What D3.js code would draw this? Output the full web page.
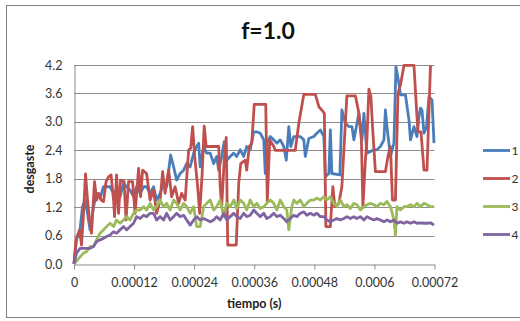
<!DOCTYPE html>
<html lang="es">
<head>
<meta charset="UTF-8">
<title>f=1.0</title>
<style>
* { margin: 0; padding: 0; }
body { background: #fff; width: 520px; height: 321px; overflow: hidden; font-family: Lato, "Open Sans", sans-serif; }
svg { display: block; }
.grid line { stroke: #8c8c8c; stroke-width: 1; }
.axis path, .axis line { stroke: #8c8c8c; }
.axis text { font-size: 12.5px; fill: #333; font-family: Lato, sans-serif; }
.series { fill: none; stroke-width: 2.8; stroke-linejoin: round; }
</style>
</head>
<body>
<div id="chart"></div>
<script src="https://cdn.jsdelivr.net/npm/d3@7/dist/d3.min.js"></script>
<script>
// time in microseconds, desgaste value
var serie1 = [[0,0.01],[5,0.51],[12,0.72],[17,1.21],[22,1.35],[27,1.07],[32,0.72],[39,1.21],[45,1.49],[52,1.39],[59,1.63],[65,1.63],[72,1.63],[79,1.49],[85,1.56],[92,1.42],[99,1.70],[105,1.63],[112,1.56],[119,1.42],[125,1.63],[132,1.49],[139,1.63],[145,1.63],[152,1.49],[159,1.63],[165,1.35],[172,1.49],[179,1.70],[185,1.63],[193,2.30],[199,2.05],[205,1.77],[212,1.91],[219,1.98],[225,2.12],[232,2.05],[239,2.34],[245,2.48],[249,2.55],[252,2.05],[259,2.48],[265,2.34],[272,2.34],[279,2.12],[285,2.27],[289,1.98],[295,2.27],[300,2.58],[305,2.19],[312,2.27],[319,2.34],[325,2.27],[332,2.41],[339,2.27],[345,2.48],[352,2.41],[359,2.79],[365,2.79],[372,2.76],[379,2.62],[382,1.91],[385,2.55],[392,2.69],[399,2.62],[405,2.55],[412,2.62],[419,2.48],[424,2.19],[429,2.90],[433,2.48],[439,2.69],[452,2.69],[459,2.62],[462,2.27],[469,2.65],[479,2.69],[485,2.76],[492,2.83],[499,2.69],[502,1.84],[509,1.91],[512,2.83],[515,1.91],[531,1.88],[535,3.25],[542,2.97],[549,2.90],[555,2.90],[559,2.62],[564,2.90],[569,3.18],[572,2.90],[575,2.62],[579,3.18],[585,2.34],[599,2.41],[605,2.41],[612,2.48],[619,2.62],[622,3.25],[625,2.90],[632,2.27],[639,2.55],[643,4.16],[649,3.81],[652,3.57],[662,3.57],[669,3.04],[672,2.62],[679,2.90],[685,2.69],[689,3.11],[692,3.29],[695,3.25],[699,2.76],[704,2.90],[709,3.53],[715,3.46],[719,2.55]];

var serie2 = [[0,0],[4,0.51],[11,0.72],[15,0.40],[19,1.07],[23,1.90],[27,1.35],[31,0.93],[35,0.65],[41,1.74],[45,1.35],[49,1.49],[54,1.35],[59,1.32],[64,1.74],[69,1.84],[74,1.88],[79,1.35],[81,1.00],[85,1.88],[89,1.07],[93,1.77],[100,1.74],[104,0.93],[109,1.74],[117,1.74],[122,1.07],[129,2.02],[133,1.42],[137,1.98],[145,1.91],[152,1.35],[159,1.56],[165,1.07],[172,1.35],[177,1.95],[182,1.49],[189,1.98],[195,1.42],[202,1.63],[209,1.28],[215,1.49],[222,1.35],[229,2.41],[233,2.44],[237,2.90],[241,2.27],[247,1.63],[251,1.07],[256,1.91],[260,2.91],[264,2.48],[289,2.48],[292,1.63],[295,1.21],[300,2.19],[304,2.67],[307,0.40],[324,0.40],[329,1.70],[333,2.12],[342,2.19],[345,1.98],[350,2.48],[355,2.55],[360,3.37],[383,3.37],[386,1.32],[391,2.62],[399,2.48],[402,2.40],[442,2.40],[449,2.97],[459,3.58],[482,3.58],[489,3.32],[495,3.25],[500,3.18],[503,0.79],[512,0.79],[517,1.63],[521,1.21],[529,1.28],[535,1.63],[545,3.55],[562,3.55],[569,3.18],[574,2.62],[577,1.21],[582,2.19],[585,2.62],[589,3.69],[593,3.53],[597,2.76],[602,1.95],[622,1.95],[627,2.27],[632,2.48],[636,1.35],[642,1.35],[647,3.60],[652,3.78],[659,4.19],[679,4.19],[683,3.46],[687,2.79],[693,2.79],[699,1.98],[705,1.98],[712,4.19]];

var serie3 = [[0,0],[12,0.15],[19,0.23],[25,0.26],[32,0.37],[39,0.37],[45,0.51],[52,0.65],[59,0.72],[65,0.79],[72,0.86],[79,0.79],[85,0.93],[92,0.86],[99,0.93],[105,1.00],[112,0.93],[119,1.07],[125,1.14],[132,1.14],[139,1.21],[145,1.14],[152,1.28],[159,1.14],[165,1.21],[172,1.35],[179,1.21],[185,1.28],[192,1.14],[199,1.35],[205,1.28],[212,1.14],[219,1.28],[225,1.21],[232,1.07],[239,1.21],[245,0.79],[252,0.79],[259,1.21],[265,1.28],[272,1.35],[279,1.14],[285,1.21],[292,1.35],[299,1.00],[305,1.28],[312,1.21],[319,1.35],[325,1.17],[332,1.35],[339,1.28],[345,1.14],[352,1.35],[359,1.21],[365,1.28],[372,1.17],[379,1.21],[385,1.28],[392,1.35],[399,1.28],[405,1.14],[412,1.35],[419,1.21],[425,1.14],[429,0.72],[435,1.21],[439,1.35],[445,1.28],[452,1.35],[459,1.21],[465,1.28],[472,1.35],[479,1.35],[485,1.39],[492,1.35],[499,1.42],[505,1.35],[512,1.42],[519,1.28],[525,1.21],[532,1.35],[539,1.21],[545,1.25],[552,1.17],[559,1.28],[565,1.25],[572,1.14],[579,1.21],[585,1.25],[592,1.28],[599,1.25],[605,1.21],[612,1.28],[619,1.25],[625,1.32],[632,1.21],[639,0.93],[642,0.61],[645,1.21],[652,1.14],[659,1.21],[665,1.21],[672,1.25],[679,1.21],[685,1.28],[692,1.21],[699,1.28],[705,1.25],[712,1.21],[719,1.21]];

var serie4 = [[0,0],[5,0.23],[12,0.33],[19,0.33],[25,0.33],[32,0.33],[39,0.37],[45,0.47],[52,0.51],[59,0.54],[65,0.58],[72,0.61],[79,0.68],[85,0.65],[92,0.72],[99,0.79],[105,0.72],[112,0.79],[119,0.86],[125,1.00],[132,0.96],[139,1.03],[145,1.00],[152,1.07],[159,1.07],[165,0.93],[172,1.00],[179,0.93],[185,1.07],[192,0.93],[199,1.00],[205,1.07],[212,1.00],[219,1.03],[225,0.93],[232,0.82],[239,0.93],[245,1.00],[252,0.93],[259,0.96],[265,0.93],[272,0.89],[279,0.93],[285,1.00],[292,0.93],[299,1.07],[305,0.93],[312,1.00],[319,1.07],[325,1.00],[332,0.96],[339,1.07],[345,1.00],[352,1.03],[359,1.14],[365,1.07],[372,1.00],[379,1.07],[385,0.96],[392,1.00],[399,1.07],[405,1.00],[412,1.03],[419,0.96],[425,0.89],[432,0.96],[439,1.03],[445,1.00],[452,1.07],[459,1.10],[465,1.03],[472,1.07],[479,1.03],[485,1.07],[492,1.00],[499,1.00],[505,0.93],[512,0.89],[519,0.93],[525,0.96],[532,0.93],[539,0.96],[545,1.00],[552,0.96],[559,1.00],[565,0.96],[572,1.00],[579,0.93],[585,1.00],[592,0.96],[599,0.93],[605,0.96],[612,0.93],[619,0.89],[625,0.93],[632,0.89],[639,0.93],[645,0.86],[652,0.89],[659,0.86],[665,0.89],[672,0.86],[679,0.89],[685,0.86],[692,0.87],[699,0.86],[705,0.86],[712,0.87],[719,0.82]];

var seriesNames = ["1", "2", "3", "4"];
var seriesColors = ["#4a7ebb", "#c0504d", "#9bbb59", "#8064a2"];
var xTicks = [0, 0.00012, 0.00024, 0.00036, 0.00048, 0.0006, 0.00072];
var xTickLabels = ["0", "0.00012", "0.00024", "0.00036", "0.00048", "0.0006", "0.00072"];
var yTicks = [0, 0.6, 1.2, 1.8, 2.4, 3.0, 3.6, 4.2];

var W = 520, H = 321;
var plot = { left: 74, right: 434.5, top: 65, bottom: 264 };

var svg = d3.select("#chart").append("svg").attr("width", W).attr("height", H);

// chart border
svg.append("rect")
	.attr("x", 6.5).attr("y", 5.5).attr("width", 600).attr("height", 312)
	.attr("fill", "#fff").attr("stroke", "#7f7f7f").attr("stroke-width", 1);

var x = d3.scaleLinear().domain([0, 0.00072]).range([plot.left, plot.right]);
var y = d3.scaleLinear().domain([0, 4.2]).range([plot.bottom, plot.top]);

// gridlines
svg.append("g").attr("class", "grid")
	.selectAll("line").data(yTicks.slice(1)).join("line")
	.attr("x1", plot.left).attr("x2", plot.right)
	.attr("y1", function(d) { return Math.round(y(d)) + 0.5; })
	.attr("y2", function(d) { return Math.round(y(d)) + 0.5; });

// y axis
svg.append("g").attr("class", "axis")
	.attr("transform", "translate(" + (plot.left + 0.5) + ",0)")
	.call(d3.axisLeft(y).tickValues(yTicks).tickFormat(d3.format(".1f")).tickSize(0).tickPadding(12));

// x axis
svg.append("g").attr("class", "axis")
	.attr("transform", "translate(0," + (plot.bottom + 0.5) + ")")
	.call(d3.axisBottom(x).tickValues(xTicks)
		.tickFormat(function(d, i) { return xTickLabels[i]; })
		.tickSize(5).tickSizeOuter(0).tickPadding(8.5));

var line = d3.line()
	.x(function(d) { return x(d[0] * 1e-6); })
	.y(function(d) { return y(d[1]); });

var allSeries = [serie1, serie2, serie3, serie4];
allSeries.forEach(function(s, i) {
	svg.append("path").attr("class", "series")
		.attr("d", line(s))
		.attr("stroke", seriesColors[i]);
});

// title
svg.append("text")
	.attr("x", 268).attr("y", 39)
	.attr("text-anchor", "middle")
	.attr("font-size", 23).attr("font-weight", "bold").attr("fill", "#111")
	.text("f=1.0");

// axis titles
svg.append("text")
	.attr("x", (plot.left + plot.right) / 2).attr("y", 308)
	.attr("text-anchor", "middle")
	.attr("font-size", 12.5).attr("font-weight", "bold").attr("fill", "#222")
	.text("tiempo (s)");

svg.append("text")
	.attr("transform", "translate(34,169) rotate(-90)")
	.attr("text-anchor", "middle")
	.attr("font-size", 12.5).attr("font-weight", "bold").attr("fill", "#222")
	.text("desgaste");

// legend (sits at the right edge, as in the reference)
var legend = svg.append("g").selectAll("g").data(seriesNames).join("g")
	.attr("transform", function(d, i) { return "translate(483," + (150.5 + i * 28) + ")"; });
legend.append("line")
	.attr("x1", 0).attr("x2", 27).attr("y1", 0).attr("y2", 0)
	.attr("stroke", function(d, i) { return seriesColors[i]; })
	.attr("stroke-width", 2.8);
legend.append("text")
	.attr("x", 28.5).attr("y", 4.5)
	.attr("font-size", 12).attr("fill", "#333")
	.text(function(d) { return d; });
</script>
</body>
</html>
